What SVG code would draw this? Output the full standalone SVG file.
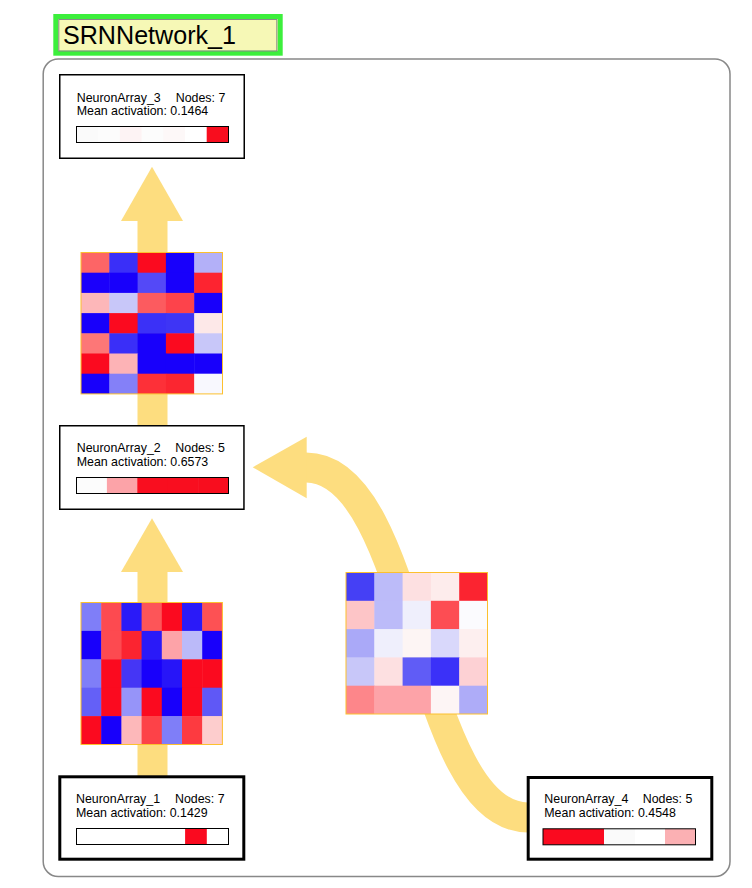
<svg xmlns="http://www.w3.org/2000/svg" width="752" height="888" viewBox="0 0 752 888">
<style>
.t{font-family:"Liberation Sans",Arial,sans-serif;font-size:12.4px;fill:#000}
.title{font-family:"Liberation Sans",Arial,sans-serif;font-size:26.5px;fill:#000}
.box{fill:#fff;stroke:#000;stroke-width:1.5}
.boxb{fill:#fff;stroke:#000;stroke-width:3}
.bar{fill:none;stroke:#000;stroke-width:1}
.shaft{fill:none;stroke:#fddd7f;stroke-width:30}
.head{fill:#fddd7f}
.mb{fill:none;stroke:#fcc02e;stroke-width:1}
</style>
<rect width="752" height="888" fill="#fff"/>
<g id="SRNNetwork_1">
<rect x="43.2" y="59" width="686.8" height="817.5" rx="15" fill="#fff" stroke="#888" stroke-width="1.5"/>
<rect x="55.8" y="16.5" width="224.4" height="36.7" fill="#f6f8b6" stroke="#3cef3c" stroke-width="5"/>
<rect x="58.8" y="19.5" width="218" height="31.5" fill="none" stroke="#888" stroke-width="1"/>
<text class="title" x="63" y="43.5" textLength="173" lengthAdjust="spacingAndGlyphs">SRNNetwork_1</text>
</g>
<g id="connectors">
<line class="shaft" x1="152.5" y1="425" x2="152.5" y2="220"/>
<polygon class="head" points="152,166.7 121,221 183,221"/>
<line class="shaft" x1="152.5" y1="776" x2="152.5" y2="571"/>
<polygon class="head" points="152,518.3 121,572 183,572"/>
<path class="shaft" d="M528 817.5 C416.5 817.5 416.5 467.5 306 467.5"/>
<polygon class="head" points="252.7,467.3 306.7,436.7 306.7,498.3"/>
</g>
<g id="weights_2_3" transform="translate(81,252.5)">
<rect x="0" y="0" width="28.8" height="20.7" fill="#fd6566"/><rect x="28.3" y="0" width="28.8" height="20.7" fill="#3a2ff8"/><rect x="56.6" y="0" width="28.8" height="20.7" fill="#fb0a1f"/><rect x="84.9" y="0" width="28.8" height="20.7" fill="#1800fb"/><rect x="113.2" y="0" width="28.3" height="20.7" fill="#b3b0f8"/>
<rect x="0" y="20.2" width="28.8" height="20.7" fill="#1b00fb"/><rect x="28.3" y="20.2" width="28.8" height="20.7" fill="#1800fb"/><rect x="56.6" y="20.2" width="28.8" height="20.7" fill="#5449f7"/><rect x="84.9" y="20.2" width="28.8" height="20.7" fill="#1800fb"/><rect x="113.2" y="20.2" width="28.3" height="20.7" fill="#fd2430"/>
<rect x="0" y="40.4" width="28.8" height="20.7" fill="#fdb7b9"/><rect x="28.3" y="40.4" width="28.8" height="20.7" fill="#c8c7f9"/><rect x="56.6" y="40.4" width="28.8" height="20.7" fill="#fc5b5f"/><rect x="84.9" y="40.4" width="28.8" height="20.7" fill="#fd434b"/><rect x="113.2" y="40.4" width="28.3" height="20.7" fill="#1800fb"/>
<rect x="0" y="60.6" width="28.8" height="20.7" fill="#1800fb"/><rect x="28.3" y="60.6" width="28.8" height="20.7" fill="#fb0a1f"/><rect x="56.6" y="60.6" width="28.8" height="20.7" fill="#3b31f7"/><rect x="84.9" y="60.6" width="28.8" height="20.7" fill="#3e35f5"/><rect x="113.2" y="60.6" width="28.3" height="20.7" fill="#fde8e8"/>
<rect x="0" y="80.8" width="28.8" height="20.7" fill="#fd7777"/><rect x="28.3" y="80.8" width="28.8" height="20.7" fill="#3a2ff8"/><rect x="56.6" y="80.8" width="28.8" height="20.7" fill="#1800fb"/><rect x="84.9" y="80.8" width="28.8" height="20.7" fill="#fb0a1f"/><rect x="113.2" y="80.8" width="28.3" height="20.7" fill="#c8c7f9"/>
<rect x="0" y="101" width="28.8" height="20.7" fill="#fb0a1f"/><rect x="28.3" y="101" width="28.8" height="20.7" fill="#fdb3b6"/><rect x="56.6" y="101" width="28.8" height="20.7" fill="#1800fb"/><rect x="84.9" y="101" width="28.8" height="20.7" fill="#1800fb"/><rect x="113.2" y="101" width="28.3" height="20.7" fill="#1800fb"/>
<rect x="0" y="121.2" width="28.8" height="20.2" fill="#1800fb"/><rect x="28.3" y="121.2" width="28.8" height="20.2" fill="#8480f8"/><rect x="56.6" y="121.2" width="28.8" height="20.2" fill="#fd3038"/><rect x="84.9" y="121.2" width="28.8" height="20.2" fill="#fb2630"/><rect x="113.2" y="121.2" width="28.3" height="20.2" fill="#f8f8fe"/>
<rect class="mb" x="0" y="0" width="141.5" height="141.4"/>
</g>
<g id="weights_1_2" transform="translate(81,602.5)">
<rect x="0" y="0" width="20.7" height="28.9" fill="#7f7ef8"/><rect x="20.2" y="0" width="20.7" height="28.9" fill="#fd4a50"/><rect x="40.4" y="0" width="20.7" height="28.9" fill="#2a1af8"/><rect x="60.6" y="0" width="20.7" height="28.9" fill="#fd5558"/><rect x="80.8" y="0" width="20.7" height="28.9" fill="#fb0a1f"/><rect x="101" y="0" width="20.7" height="28.9" fill="#2a1af8"/><rect x="121.2" y="0" width="20.2" height="28.9" fill="#fd5154"/>
<rect x="0" y="28.4" width="20.7" height="28.9" fill="#1800fb"/><rect x="20.2" y="28.4" width="20.7" height="28.9" fill="#fd4a50"/><rect x="40.4" y="28.4" width="20.7" height="28.9" fill="#fb2430"/><rect x="60.6" y="28.4" width="20.7" height="28.9" fill="#2a1af8"/><rect x="80.8" y="28.4" width="20.7" height="28.9" fill="#fda3a8"/><rect x="101" y="28.4" width="20.7" height="28.9" fill="#bbbaf9"/><rect x="121.2" y="28.4" width="20.2" height="28.9" fill="#1800fb"/>
<rect x="0" y="56.8" width="20.7" height="28.9" fill="#7f7ef8"/><rect x="20.2" y="56.8" width="20.7" height="28.9" fill="#fb0a1f"/><rect x="40.4" y="56.8" width="20.7" height="28.9" fill="#4536f5"/><rect x="60.6" y="56.8" width="20.7" height="28.9" fill="#1800fb"/><rect x="80.8" y="56.8" width="20.7" height="28.9" fill="#2715f8"/><rect x="101" y="56.8" width="20.7" height="28.9" fill="#fb0a1f"/><rect x="121.2" y="56.8" width="20.2" height="28.9" fill="#fb0a1f"/>
<rect x="0" y="85.2" width="20.7" height="28.9" fill="#6460f7"/><rect x="20.2" y="85.2" width="20.7" height="28.9" fill="#fb0a1f"/><rect x="40.4" y="85.2" width="20.7" height="28.9" fill="#9694f9"/><rect x="60.6" y="85.2" width="20.7" height="28.9" fill="#fb0a1f"/><rect x="80.8" y="85.2" width="20.7" height="28.9" fill="#1800fb"/><rect x="101" y="85.2" width="20.7" height="28.9" fill="#fb0a1f"/><rect x="121.2" y="85.2" width="20.2" height="28.9" fill="#5f58f6"/>
<rect x="0" y="113.6" width="20.7" height="28.4" fill="#fb0a1f"/><rect x="20.2" y="113.6" width="20.7" height="28.4" fill="#1800fb"/><rect x="40.4" y="113.6" width="20.7" height="28.4" fill="#fdb8ba"/><rect x="60.6" y="113.6" width="20.7" height="28.4" fill="#fd4248"/><rect x="80.8" y="113.6" width="20.7" height="28.4" fill="#7f7ef8"/><rect x="101" y="113.6" width="20.7" height="28.4" fill="#fd3a40"/><rect x="121.2" y="113.6" width="20.2" height="28.4" fill="#fdcdcd"/>
<rect class="mb" x="0" y="0" width="141.4" height="142"/>
</g>
<g id="weights_4_2" transform="translate(346,572.5)">
<rect x="0" y="0" width="28.8" height="28.8" fill="#4540f5"/><rect x="28.3" y="0" width="28.8" height="28.8" fill="#bcbbf9"/><rect x="56.6" y="0" width="28.8" height="28.8" fill="#fde0e1"/><rect x="84.9" y="0" width="28.8" height="28.8" fill="#fdecec"/><rect x="113.2" y="0" width="28.3" height="28.8" fill="#fb2430"/>
<rect x="0" y="28.3" width="28.8" height="28.8" fill="#fdc5c7"/><rect x="28.3" y="28.3" width="28.8" height="28.8" fill="#bcbbf9"/><rect x="56.6" y="28.3" width="28.8" height="28.8" fill="#efeffc"/><rect x="84.9" y="28.3" width="28.8" height="28.8" fill="#fd4d53"/><rect x="113.2" y="28.3" width="28.3" height="28.8" fill="#fbfbfe"/>
<rect x="0" y="56.6" width="28.8" height="28.8" fill="#aaa9f8"/><rect x="28.3" y="56.6" width="28.8" height="28.8" fill="#efeffc"/><rect x="56.6" y="56.6" width="28.8" height="28.8" fill="#fdf5f4"/><rect x="84.9" y="56.6" width="28.8" height="28.8" fill="#d9d8fb"/><rect x="113.2" y="56.6" width="28.3" height="28.8" fill="#fdefef"/>
<rect x="0" y="84.9" width="28.8" height="28.8" fill="#c8c7f9"/><rect x="28.3" y="84.9" width="28.8" height="28.8" fill="#fde0e1"/><rect x="56.6" y="84.9" width="28.8" height="28.8" fill="#605cf6"/><rect x="84.9" y="84.9" width="28.8" height="28.8" fill="#3b31f8"/><rect x="113.2" y="84.9" width="28.3" height="28.8" fill="#fdd1d4"/>
<rect x="0" y="113.2" width="28.8" height="28.3" fill="#fd868a"/><rect x="28.3" y="113.2" width="28.8" height="28.3" fill="#fda3a8"/><rect x="56.6" y="113.2" width="28.8" height="28.3" fill="#fda3a8"/><rect x="84.9" y="113.2" width="28.8" height="28.3" fill="#fdf5f5"/><rect x="113.2" y="113.2" width="28.3" height="28.3" fill="#aeacf8"/>
<rect class="mb" x="0" y="0" width="141.5" height="141.5"/>
</g>
<g id="NeuronArray_3">
<rect class="box" x="59.75" y="74.75" width="184.5" height="83.5"/>
<text class="t" x="76.7" y="101.7">NeuronArray_3</text>
<text class="t" x="175.7" y="101.7">Nodes: 7</text>
<text class="t" x="76.7" y="115">Mean activation: 0.1464</text>
<rect x="76.5" y="126.5" width="22.2" height="16" fill="#fafafa"/>
<rect x="98.2" y="126.5" width="22.2" height="16" fill="#fcfcfc"/>
<rect x="119.9" y="126.5" width="22.2" height="16" fill="#fdf3f4"/>
<rect x="141.6" y="126.5" width="22.2" height="16" fill="#fcfcfc"/>
<rect x="163.3" y="126.5" width="22.2" height="16" fill="#fdf8f8"/>
<rect x="185" y="126.5" width="22.2" height="16" fill="#ffffff"/>
<rect x="206.7" y="126.5" width="21.8" height="16" fill="#f80d1e"/>
<rect class="bar" x="76.5" y="126.5" width="152" height="16"/>
</g>
<g id="NeuronArray_2">
<rect class="box" x="59.75" y="425.75" width="184.2" height="83.5"/>
<text class="t" x="76.7" y="452">NeuronArray_2</text>
<text class="t" x="175.3" y="452">Nodes: 5</text>
<text class="t" x="76.7" y="466">Mean activation: 0.6573</text>
<rect x="76.5" y="477.5" width="30.9" height="16" fill="#fcfcfc"/>
<rect x="106.9" y="477.5" width="30.9" height="16" fill="#fca3a8"/>
<rect x="137.3" y="477.5" width="30.9" height="16" fill="#f90e1f"/>
<rect x="167.7" y="477.5" width="30.9" height="16" fill="#f90e1f"/>
<rect x="198.1" y="477.5" width="30.4" height="16" fill="#f80d1e"/>
<rect class="bar" x="76.5" y="477.5" width="152" height="16"/>
</g>
<g id="NeuronArray_1">
<rect class="boxb" x="59.8" y="776.8" width="184" height="82.4"/>
<text class="t" x="76" y="803.3">NeuronArray_1</text>
<text class="t" x="175" y="803.3">Nodes: 7</text>
<text class="t" x="76" y="817.3">Mean activation: 0.1429</text>
<rect x="185.1" y="828.5" width="21.7" height="16" fill="#fa0a1f"/>
<rect class="bar" x="76.5" y="828.5" width="152" height="16"/>
</g>
<g id="NeuronArray_4">
<rect class="boxb" x="528.2" y="777.5" width="183.6" height="81.7"/>
<text class="t" x="544.3" y="803.3">NeuronArray_4</text>
<text class="t" x="642.7" y="803.3">Nodes: 5</text>
<text class="t" x="544.3" y="817.3">Mean activation: 0.4548</text>
<rect x="543" y="828.8" width="61.5" height="16" fill="#fa0a1f"/>
<rect x="604" y="828.8" width="31" height="16" fill="#fafafa"/>
<rect x="665" y="828.8" width="30.5" height="16" fill="#fbb0b3"/>
<rect class="bar" x="543" y="828.8" width="152.5" height="16"/>
</g>
</svg>
